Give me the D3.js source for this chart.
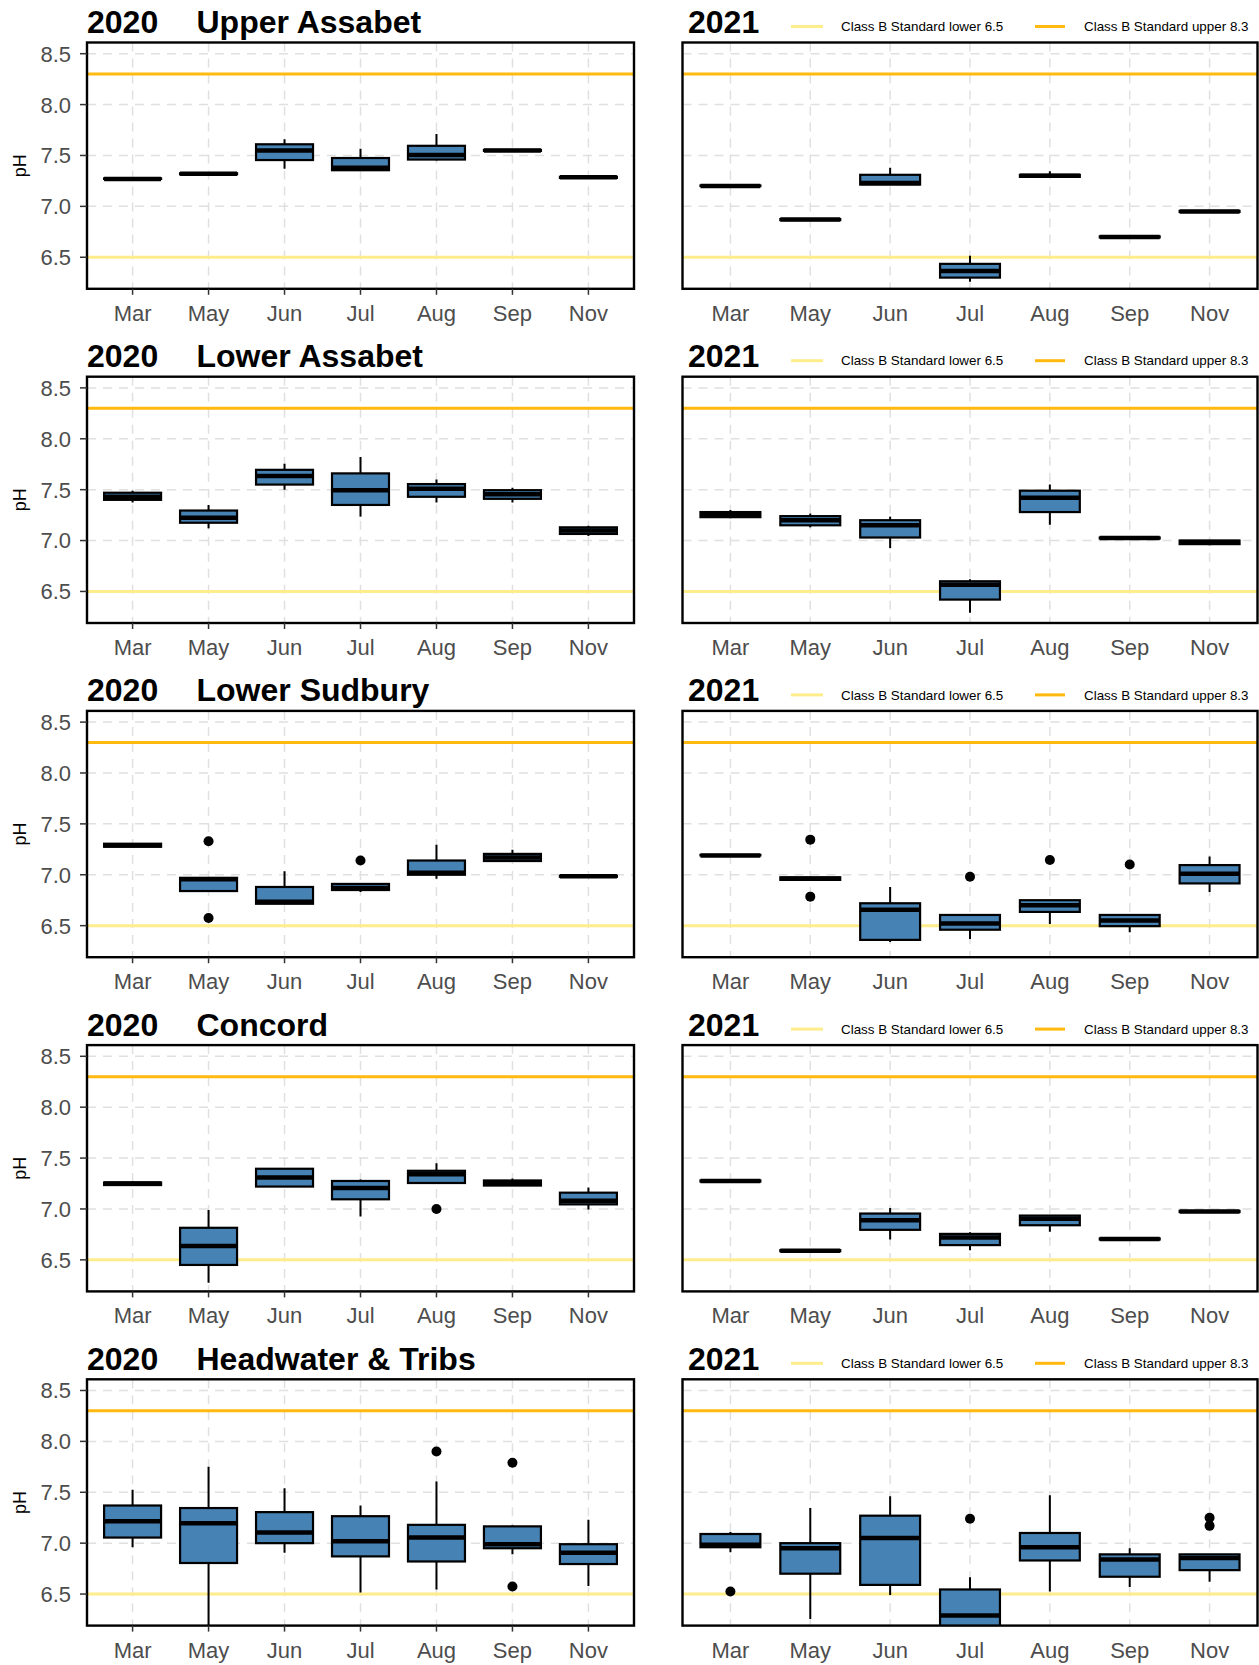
<!DOCTYPE html>
<html><head><meta charset="utf-8">
<script src="https://cdn.jsdelivr.net/npm/d3@7"></script>
<style>body{margin:0;background:#fff;} svg{display:block;font-family:"Liberation Sans",Arial,Helvetica,sans-serif;}</style>
</head><body><svg id="c" width="1259" height="1665"></svg>
<script>
// ---------- data ----------
const months = ["Mar","May","Jun","Jul","Aug","Sep","Nov"];
const sites = ["Upper Assabet","Lower Assabet","Lower Sudbury","Concord","Headwater & Tribs"];
const years = ["2020","2021"];
const yTicks = [6.5, 7.0, 7.5, 8.0, 8.5];
const yLimits = [6.3, 8.5];
const standardValues = [6.5, 8.3];
const standardLabels = ["Class B Standard lower 6.5", "Class B Standard upper 8.3"];

// each row: [min, q1, median, q3, max] per month
const upperAssabet2020 = [[7.26,7.27,7.27,7.275,7.28],[7.31,7.315,7.32,7.325,7.33],[7.37,7.455,7.55,7.61,7.66],[7.355,7.355,7.38,7.475,7.565],[7.45,7.46,7.505,7.595,7.71],[7.54,7.545,7.55,7.555,7.56],[7.27,7.28,7.285,7.29,7.29]];
const upperAssabet2020Out = [[],[],[],[],[],[],[]];
const upperAssabet2021 = [[7.195,7.2,7.2,7.205,7.21],[6.86,6.865,6.87,6.875,6.88],[7.214,7.214,7.23,7.31,7.38],[6.26,6.30,6.365,6.435,6.515],[7.29,7.29,7.30,7.31,7.345],[6.69,6.695,6.70,6.705,6.71],[6.94,6.945,6.95,6.955,6.96]];
const upperAssabet2021Out = [[],[],[],[],[],[],[]];
const lowerAssabet2020 = [[7.375,7.40,7.43,7.47,7.49],[7.12,7.175,7.225,7.295,7.35],[7.50,7.55,7.635,7.695,7.755],[7.235,7.35,7.495,7.66,7.82],[7.375,7.43,7.51,7.555,7.60],[7.375,7.41,7.455,7.495,7.52],[7.045,7.065,7.10,7.13,7.145]];
const lowerAssabet2020Out = [[],[],[],[],[],[],[]];
const lowerAssabet2021 = [[7.22,7.23,7.255,7.28,7.30],[7.13,7.15,7.20,7.24,7.265],[6.925,7.03,7.15,7.20,7.235],[6.29,6.42,6.565,6.60,6.62],[7.155,7.28,7.42,7.49,7.55],[7.015,7.02,7.025,7.03,7.03],[6.955,6.965,6.985,7.0,7.0]];
const lowerAssabet2021Out = [[],[],[],[],[],[],[]];
const lowerSudbury2020 = [[7.27,7.275,7.29,7.305,7.31],[6.84,6.84,6.955,6.97,6.97],[6.715,6.715,6.735,6.88,7.035],[6.83,6.85,6.87,6.91,6.915],[6.96,7.0,7.02,7.14,7.295],[7.135,7.135,7.17,7.205,7.245],[6.98,6.98,6.985,6.99,6.99]];
const lowerSudbury2020Out = [[],[7.33,6.575],[],[7.14],[],[],[]];
const lowerSudbury2021 = [[7.185,7.19,7.19,7.195,7.2],[6.95,6.95,6.96,6.975,6.975],[6.34,6.36,6.655,6.72,6.88],[6.37,6.46,6.52,6.605,6.605],[6.515,6.635,6.70,6.75,6.75],[6.435,6.495,6.55,6.605,6.605],[6.83,6.915,7.01,7.095,7.18]];
const lowerSudbury2021Out = [[],[7.345,6.785],[],[6.98],[7.145],[7.10],[]];
const concord2020 = [[7.235,7.235,7.25,7.26,7.27],[6.275,6.45,6.635,6.815,6.99],[7.22,7.22,7.31,7.395,7.395],[6.925,7.095,7.205,7.275,7.29],[7.255,7.255,7.34,7.375,7.45],[7.23,7.23,7.255,7.28,7.30],[6.995,7.045,7.08,7.16,7.21]];
const concord2020Out = [[],[],[],[],[7.0],[],[]];
const concord2021 = [[7.27,7.27,7.275,7.28,7.28],[6.585,6.585,6.59,6.595,6.595],[6.70,6.795,6.89,6.955,7.01],[6.595,6.645,6.72,6.755,6.77],[6.775,6.84,6.905,6.935,6.935],[6.70,6.70,6.705,6.71,6.71],[6.97,6.97,6.975,6.98,6.98]];
const concord2021Out = [[],[],[],[],[],[],[]];
const headwater2020 = [[6.96,7.055,7.215,7.37,7.525],[6.1,6.805,7.195,7.345,7.75],[6.905,7.0,7.105,7.305,7.54],[6.515,6.87,7.02,7.265,7.37],[6.545,6.82,7.055,7.18,7.605],[6.89,6.95,6.99,7.165,7.175],[6.58,6.795,6.905,6.99,7.23]];
const headwater2020Out = [[],[],[],[],[7.90],[7.79,6.575],[]];
const headwater2021 = [[6.91,6.96,6.985,7.09,7.11],[6.255,6.70,6.95,7.0,7.345],[6.49,6.59,7.05,7.27,7.46],[5.9,6.05,6.29,6.545,6.665],[6.525,6.83,6.96,7.10,7.47],[6.57,6.67,6.84,6.89,6.95],[6.62,6.735,6.855,6.89,6.89]];
const headwater2021Out = [[6.525],[],[],[7.24],[],[],[7.25,7.17]];

const panelStats = [[upperAssabet2020, upperAssabet2021],[lowerAssabet2020, lowerAssabet2021],[lowerSudbury2020, lowerSudbury2021],[concord2020, concord2021],[headwater2020, headwater2021]];
const panelOut = [[upperAssabet2020Out, upperAssabet2021Out],[lowerAssabet2020Out, lowerAssabet2021Out],[lowerSudbury2020Out, lowerSudbury2021Out],[concord2020Out, concord2021Out],[headwater2020Out, headwater2021Out]];

// ---------- layout ----------
const svg = d3.select("#c");
const rowTop0 = 42.5, rowStep = 334.2, panelH = 246.3;
const colX = [[87, 634], [682.5, 1257.5]];
const stdColors = ["#FFEC8B", "#FFB90F"];
const pad = (yLimits[1] - yLimits[0]) * 0.05;
const y = d3.scaleLinear().domain([yLimits[0] - pad, yLimits[1] + pad]).range([panelH, 0]);

sites.forEach((site, r) => {
  const top = rowTop0 + r * rowStep;
  years.forEach((yr, c) => {
    const [x0, x1] = colX[c];
    const W = x1 - x0;
    const x = d3.scalePoint().domain(months).range([0, W]).padding(0.6);
    const step = x.step();
    const bw = step * 0.75;
    const g = svg.append("g").attr("transform", `translate(${x0},${top})`);
    const cid = `clip-${r}-${c}`;
    g.append("clipPath").attr("id", cid).append("rect").attr("width", W).attr("height", panelH);
    const inner = g.append("g").attr("clip-path", `url(#${cid})`);

    // grid
    inner.selectAll(".hg").data(yTicks).join("line")
      .attr("x1", 0).attr("x2", W).attr("y1", d => y(d)).attr("y2", d => y(d))
      .attr("stroke", "#e0e0e0").attr("stroke-width", 1.5).attr("stroke-dasharray", "9,7");
    inner.selectAll(".vg").data(months).join("line")
      .attr("y1", 0).attr("y2", panelH).attr("x1", d => x(d)).attr("x2", d => x(d))
      .attr("stroke", "#e0e0e0").attr("stroke-width", 1.5).attr("stroke-dasharray", "9,7");

    // standards
    inner.selectAll(".std").data(standardValues).join("line")
      .attr("x1", 0).attr("x2", W).attr("y1", d => y(d)).attr("y2", d => y(d))
      .attr("stroke", (d, i) => stdColors[i]).attr("stroke-width", 3);

    // boxes
    const stats = panelStats[r][c];
    const outs = panelOut[r][c];
    stats.forEach((s, i) => {
      const cx = x(months[i]);
      const [mn, q1, md, q3, mx] = s;
      const bg = inner.append("g");
      bg.append("line").attr("x1", cx).attr("x2", cx).attr("y1", y(q3)).attr("y2", y(mx))
        .attr("stroke", "#000").attr("stroke-width", 2);
      bg.append("line").attr("x1", cx).attr("x2", cx).attr("y1", y(q1)).attr("y2", y(mn))
        .attr("stroke", "#000").attr("stroke-width", 2);
      bg.append("rect").attr("x", cx - bw / 2).attr("width", bw)
        .attr("y", y(q3)).attr("height", Math.max(0.01, y(q1) - y(q3)))
        .attr("fill", "#4682B4").attr("stroke", "#000").attr("stroke-width", 2.2);
      bg.append("line").attr("x1", cx - bw / 2).attr("x2", cx + bw / 2).attr("y1", y(md)).attr("y2", y(md))
        .attr("stroke", "#000").attr("stroke-width", 4.5);
      outs[i].forEach(v => {
        bg.append("circle").attr("cx", cx).attr("cy", y(v)).attr("r", 5).attr("fill", "#000");
      });
    });

    // border
    g.append("rect").attr("width", W).attr("height", panelH)
      .attr("fill", "none").attr("stroke", "#000").attr("stroke-width", 2.4);

    // x labels
    g.selectAll(".xl").data(months).join("text")
      .attr("x", d => x(d)).attr("y", panelH + 32).attr("text-anchor", "middle")
      .attr("font-size", 22).attr("fill", "#4d4d4d").text(d => d);

    if (c === 0) {
      g.selectAll(".xt").data(months).join("line")
        .attr("x1", d => x(d)).attr("x2", d => x(d)).attr("y1", panelH).attr("y2", panelH + 6)
        .attr("stroke", "#333").attr("stroke-width", 1.5);
      g.selectAll(".yt").data(yTicks).join("line")
        .attr("x1", -7).attr("x2", 0).attr("y1", d => y(d)).attr("y2", d => y(d))
        .attr("stroke", "#333").attr("stroke-width", 1.5);
      g.selectAll(".yl").data(yTicks).join("text")
        .attr("x", -16).attr("y", d => y(d)).attr("dy", "0.36em").attr("text-anchor", "end")
        .attr("font-size", 22).attr("fill", "#4d4d4d").text(d => d3.format(".1f")(d));
      g.append("text").attr("transform", `translate(${20 - x0},${panelH / 2}) rotate(-90)`)
        .attr("text-anchor", "middle").attr("dy", "0.35em")
        .attr("font-size", 18).attr("fill", "#000").text("pH");
      g.append("text").attr("x", 0).attr("y", -9.5).attr("font-size", 32).attr("font-weight", "bold").text(yr);
      g.append("text").attr("x", 109.5).attr("y", -9.5).attr("font-size", 32).attr("font-weight", "bold").text(site);
    } else {
      g.append("text").attr("x", 5.5).attr("y", -9.5).attr("font-size", 32).attr("font-weight", "bold").text(yr);
      // legend
      const legX = [[791 - x0, 823 - x0, 841 - x0], [1035 - x0, 1065 - x0, 1084 - x0]];
      standardLabels.forEach((lab, i) => {
        g.append("line").attr("x1", legX[i][0]).attr("x2", legX[i][1]).attr("y1", -16).attr("y2", -16)
          .attr("stroke", stdColors[i]).attr("stroke-width", 3);
        g.append("text").attr("x", legX[i][2]).attr("y", -16).attr("dy", "0.35em")
          .attr("font-size", 13.4).attr("fill", "#000").text(lab);
      });
    }
  });
});
</script></body></html>
